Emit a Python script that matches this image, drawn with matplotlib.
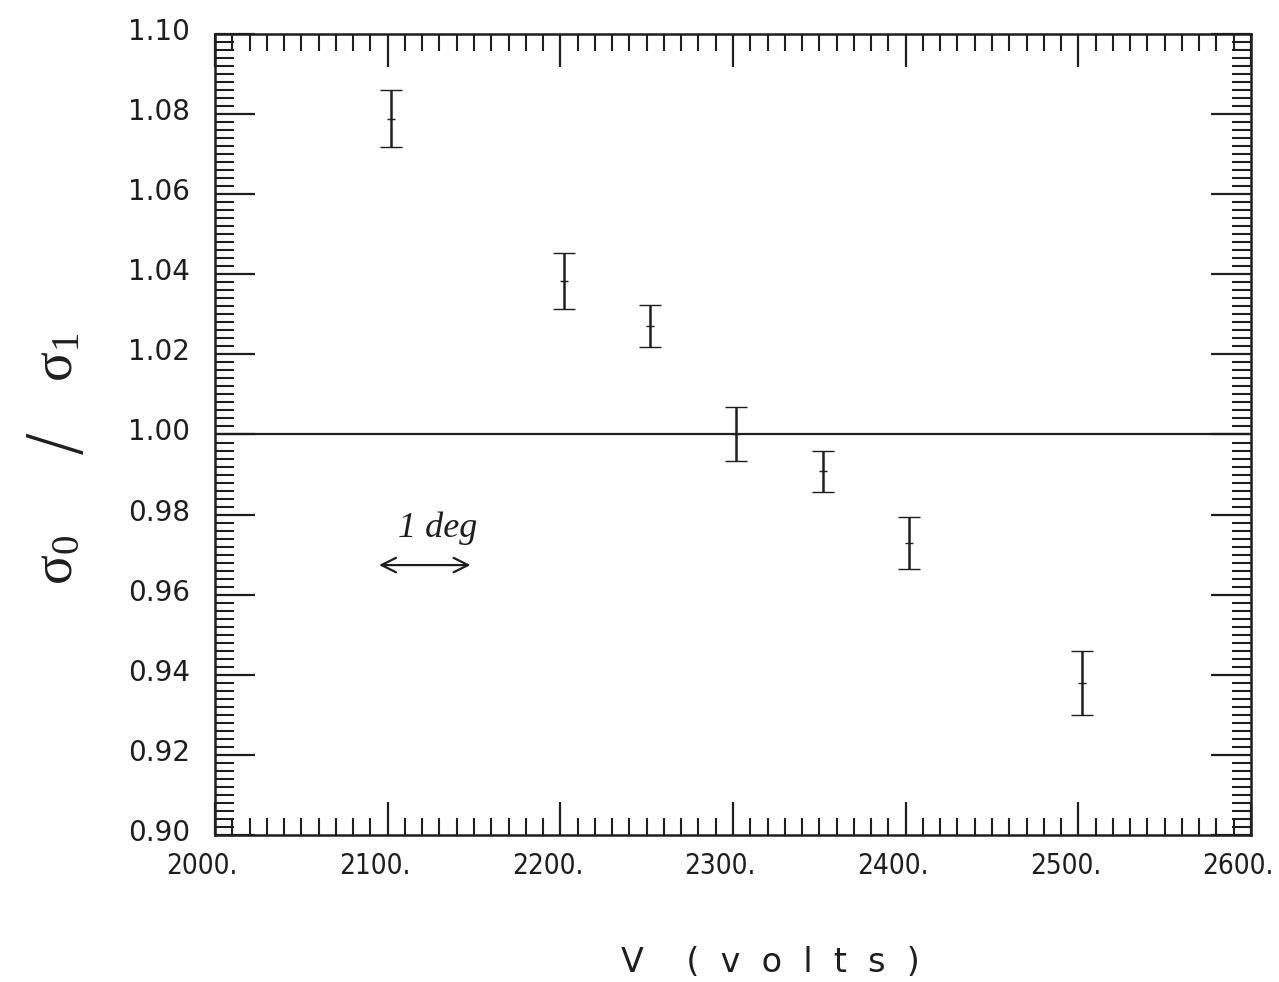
import matplotlib
matplotlib.use("Agg")
import matplotlib.pyplot as plt
from matplotlib.ticker import MultipleLocator, FixedLocator
import matplotlib.transforms as mtransforms

# Data
voltage = [2102, 2202, 2252, 2302, 2352, 2402, 2502]
ratio = [1.0788, 1.0383, 1.0272, 1.0000, 0.9908, 0.9729, 0.9380]
err_low = [0.0070, 0.0070, 0.0054, 0.0067, 0.0052, 0.0065, 0.0080]
err_high = [0.0072, 0.0070, 0.0051, 0.0069, 0.0051, 0.0065, 0.0079]

x_ticks = [2000, 2100, 2200, 2300, 2400, 2500, 2600]
x_tick_labels = ["2000.", "2100.", "2200.", "2300.", "2400.", "2500.", "2600."]
y_ticks = [0.90, 0.92, 0.94, 0.96, 0.98, 1.00, 1.02, 1.04, 1.06, 1.08, 1.10]
y_tick_labels = ["0.90", "0.92", "0.94", "0.96", "0.98", "1.00",
                 "1.02", "1.04", "1.06", "1.08", "1.10"]
reference_level = 1.00

# annotation ("1 deg" scale arrow)
arrow_x = [2095, 2148]
arrow_y = 0.9674
note_text = "1 deg"
note_xy = (2106, 0.9765)

INK = "#1e1e1e"
plt.rcParams["font.family"] = ["DejaVu Sans"]

fig = plt.figure(figsize=(12.79, 9.82), dpi=100)
ax = fig.add_axes([215 / 1279, 1 - 835 / 982, 1036 / 1279, 801 / 982])

ax.set_xlim(2000, 2600)
ax.set_ylim(0.90, 1.10)

ax.axhline(reference_level, color=INK, lw=1.6)

ax.errorbar(voltage, ratio, yerr=[err_low, err_high], fmt="_", color=INK,
            ecolor=INK, elinewidth=1.8, capsize=8, capthick=1.8,
            markersize=6, markeredgewidth=1.0)

ax.annotate("", xy=(arrow_x[0], arrow_y), xytext=(arrow_x[1], arrow_y),
            arrowprops=dict(arrowstyle="<->", color=INK, lw=1.6,
                            mutation_scale=26, shrinkA=0, shrinkB=0))
ax.text(note_xy[0], note_xy[1], note_text, fontsize=26, color=INK,
        fontstyle="italic", family=["Liberation Serif", "DejaVu Serif"],
        ha="left", va="center")

# ticks
ax.xaxis.set_major_locator(FixedLocator(x_ticks))
ax.set_xticklabels(x_tick_labels, fontstretch="condensed")
ax.xaxis.set_minor_locator(MultipleLocator(10))
ax.yaxis.set_major_locator(FixedLocator(y_ticks))
ax.set_yticklabels(y_tick_labels)
ax.yaxis.set_minor_locator(MultipleLocator(0.002))

ax.tick_params(axis="x", which="major", direction="in", top=True, bottom=True,
               length=24, width=1.6, color=INK, labelsize=20, pad=12,
               labelcolor=INK)
ax.tick_params(axis="x", which="minor", direction="in", top=True, bottom=True,
               length=12, width=1.5, color=INK)
ax.tick_params(axis="y", which="major", direction="in", left=True, right=True,
               length=29, width=1.6, color=INK, labelsize=20, pad=18,
               labelcolor=INK)
ax.tick_params(axis="y", which="minor", direction="in", left=True, right=True,
               length=14, width=1.5, color=INK)

for s in ax.spines.values():
    s.set_linewidth(1.8)
    s.set_color(INK)

shift_x = mtransforms.ScaledTranslation(-13 / 100, 0, fig.dpi_scale_trans)
for lab in ax.get_xticklabels():
    lab.set_transform(lab.get_transform() + shift_x)
shift_y = mtransforms.ScaledTranslation(0, 5 / 100, fig.dpi_scale_trans)
for lab in ax.get_yticklabels():
    lab.set_transform(lab.get_transform() + shift_y)

# y-axis title: sigma_0 / sigma_1 (rotated)
fig.text(58 / 1279, 1 - 560 / 982, r"$\mathregular{σ_0}$", rotation=90,
         fontsize=40, color=INK, ha="center", va="center",
         family=["Liberation Serif", "DejaVu Serif"])
fig.text(58 / 1279, 1 - 442 / 982, "/", rotation=90,
         fontsize=50, color=INK, ha="center", va="center",
         family=["DejaVu Sans"], fontweight="ultralight")
fig.text(58 / 1279, 1 - 357 / 982, r"$\mathregular{σ_1}$", rotation=90,
         fontsize=40, color=INK, ha="center", va="center",
         family=["Liberation Serif", "DejaVu Serif"])
fig.text(770 / 1279, 1 - 962 / 982, "V    (  v  o  l  t  s  )", fontsize=24,
         color=INK, ha="center", va="center")

fig.savefig("out.png", dpi=100)
